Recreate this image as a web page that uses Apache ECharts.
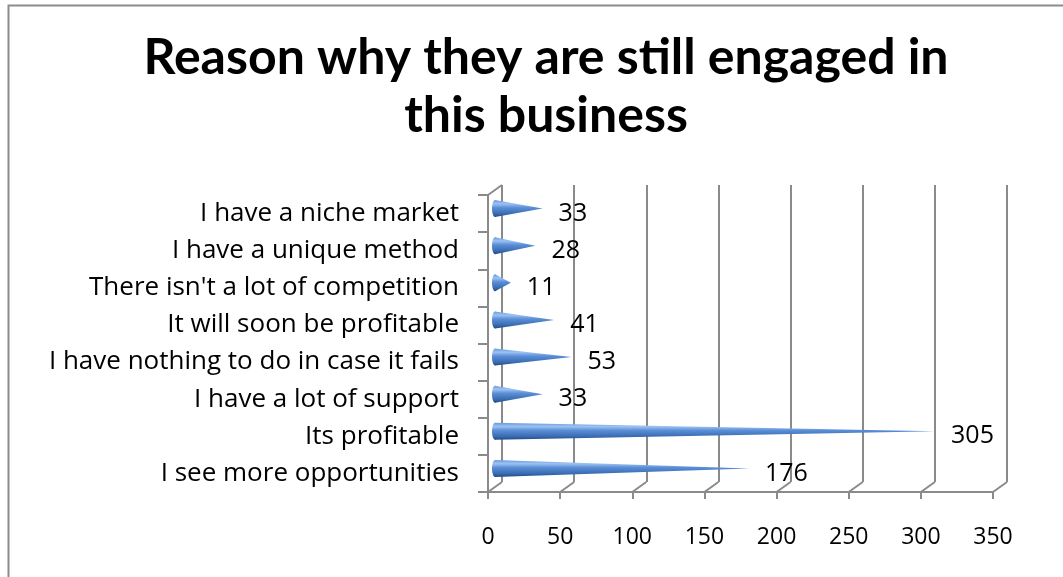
<!DOCTYPE html>
<html>
<head>
<meta charset="utf-8">
<script src="https://cdn.jsdelivr.net/npm/echarts@6/dist/echarts.min.js"></script>
<style>
  html, body { margin: 0; padding: 0; background: #fff; }
  #chart { width: 1063px; height: 577px; }
</style>
</head>
<body>
<div id="chart"></div>
<script>
// Survey answers, listed from the top row of the chart to the bottom row
const categories = [
  'I have a niche market',
  'I have a unique method',
  "There isn't a lot of competition",
  'It will soon be profitable',
  'I have nothing to do in case it fails',
  'I have a lot of support',
  'Its profitable',
  'I see more opportunities'
];
const values = [33, 28, 11, 41, 53, 33, 305, 176];
const xTicks = [0, 50, 100, 150, 200, 250, 300, 350];

const TITLE_FONT = 'Lato, "Open Sans", sans-serif';
const FONT = '"Open Sans", Lato, sans-serif';
const LINE = '#8a8a8a';
// depth of the 3-D box: back wall sits up and to the right of the front plane
const DEPTH_X = 14, DEPTH_Y = -10;

const chart = echarts.init(document.getElementById('chart'), null, { renderer: 'canvas' });

const frontGrid = { left: 488, top: 195, width: 505, height: 297 };
const backGrid = {
  left: frontGrid.left + DEPTH_X, top: frontGrid.top + DEPTH_Y,
  width: frontGrid.width, height: frontGrid.height
};

const coneGradient = new echarts.graphic.LinearGradient(0, 0, 0, 1, [
  { offset: 0, color: '#6a9be0' },
  { offset: 0.22, color: '#9cc2f2' },
  { offset: 0.45, color: '#5a8ed6' },
  { offset: 0.8, color: '#3a6cb2' },
  { offset: 1, color: '#1f4a86' }
]);

const option = {
  backgroundColor: '#fff',
  animation: false,
  title: {
    text: 'Reason why they are still engaged in\nthis business',
    left: 541,
    top: 24,
    textAlign: 'center',
    textStyle: {
      fontFamily: TITLE_FONT, fontWeight: 'bold', fontSize: 50,
      lineHeight: 58, color: '#000'
    }
  },
  graphic: [{
    type: 'rect',
    shape: { x: 8.5, y: 5.5, width: 1100, height: 620 },
    style: { fill: null, stroke: '#8c8c8c', lineWidth: 2 },
    silent: true
  }],
  grid: [
    Object.assign({ containLabel: false }, frontGrid),
    Object.assign({ containLabel: false }, backGrid)
  ],
  xAxis: [{
    gridIndex: 0, type: 'value', min: 0, max: 350, interval: 50,
    axisLine: { show: true, lineStyle: { color: LINE, width: 2 } },
    axisTick: { show: true, length: 7, lineStyle: { color: LINE, width: 2 } },
    axisLabel: {
      margin: 34, fontFamily: FONT, fontSize: 23, color: '#000',
      customValues: xTicks
    },
    splitLine: { show: false }
  }, {
    gridIndex: 1, type: 'value', min: 0, max: 350, interval: 50,
    axisLine: { show: false }, axisTick: { show: false }, axisLabel: { show: false },
    splitLine: { show: true, lineStyle: { color: LINE, width: 2 } }
  }],
  yAxis: [{
    gridIndex: 0, type: 'category', data: categories, inverse: true,
    axisLine: { show: true, lineStyle: { color: LINE, width: 2 } },
    axisTick: { show: true, length: 10, lineStyle: { color: LINE, width: 2 } },
    axisLabel: { margin: 29, fontFamily: FONT, fontSize: 26, color: '#000' },
    splitLine: { show: false }
  }, {
    gridIndex: 1, type: 'category', data: categories, inverse: true,
    axisLine: { show: false }, axisTick: { show: false }, axisLabel: { show: false },
    splitLine: { show: false }
  }],
  series: [{
    // slanted floor edges joining each front tick to its back-wall gridline
    type: 'custom',
    xAxisIndex: 0, yAxisIndex: 0,
    silent: true,
    data: xTicks.map(v => [v]),
    encode: { x: 0 },
    renderItem: function (params, api) {
      const v = api.value(0);
      const cs = params.coordSys;
      const x = api.coord([v, 0])[0];
      const bottom = cs.y + cs.height;
      const children = [{
        type: 'line',
        shape: { x1: x, y1: bottom, x2: x + DEPTH_X, y2: bottom + DEPTH_Y },
        style: { stroke: LINE, lineWidth: 2 }
      }];
      if (params.dataIndex === 0) {
        children.push({
          type: 'line',
          shape: { x1: x, y1: cs.y, x2: x + DEPTH_X, y2: cs.y + DEPTH_Y },
          style: { stroke: LINE, lineWidth: 2 }
        });
      }
      return { type: 'group', children: children };
    },
    z: 3
  }, {
    // cones, drawn half-way into the box depth, with value labels past the tip
    type: 'custom',
    xAxisIndex: 0, yAxisIndex: 0,
    data: categories.map((c, i) => [values[i], i]),
    encode: { x: 0, y: 1 },
    renderItem: function (params, api) {
      const val = api.value(0);
      const cat = api.value(1);
      const base = api.coord([0, cat]);
      const tip = api.coord([val, cat]);
      const dx = DEPTH_X / 2, dy = DEPTH_Y / 2;
      const r = 8.5;
      const bx = base[0] + dx, by = base[1] + dy;
      const tx = tip[0] + dx, ty = tip[1] + dy;
      return {
        type: 'group',
        children: [{
          type: 'polygon',
          shape: { points: [[bx, by - r], [tx, ty], [bx, by + r]] },
          style: { fill: coneGradient }
        }, {
          type: 'ellipse',
          shape: { cx: bx, cy: by, rx: 3, ry: r },
          style: { fill: coneGradient }
        }, {
          type: 'text',
          style: {
            x: tip[0] + 23, y: tip[1],
            text: String(val),
            font: '25px ' + FONT,
            fill: '#000',
            verticalAlign: 'middle',
            align: 'left'
          }
        }]
      };
    },
    z: 4
  }]
};

chart.setOption(option);
</script>
</body>
</html>
